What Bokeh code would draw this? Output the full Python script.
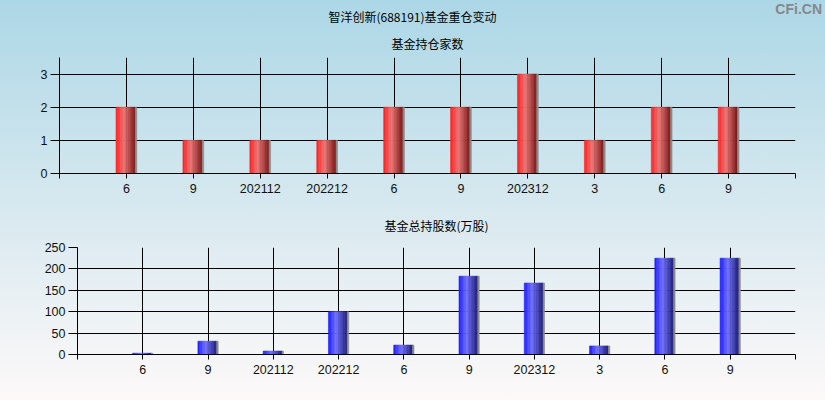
from bokeh.plotting import figure
from bokeh.models import ColumnDataSource, FixedTicker, Title, Spacer, Div
from bokeh.layouts import column, row
from bokeh.transform import dodge
from bokeh.embed import file_html
from bokeh.resources import INLINE

# ---------------- data ----------------
period_labels = ["6", "9", "202112", "202212", "6", "9", "202312", "3", "6", "9"]
fund_counts = [2, 1, 1, 1, 2, 2, 3, 1, 2, 2]
fund_shares = [3, 31, 8, 100, 22, 183, 167, 20, 225, 225]

main_title = "智洋创新(688191)基金重仓变动"
top_title = "基金持仓家数"
bottom_title = "基金总持股数(万股)"
watermark = "CFi.CN"

count_ticks = [0, 1, 2, 3]
share_ticks = [0, 50, 100, 150, 200, 250]

# ---------------- style ----------------
W_TOTAL = 825
HEAD_H = 26
H_EACH = 200
NUM_FONT = "Liberation Sans"
CJK_FONT = "Noto Sans CJK SC"
BAR_W = 0.31
N_STRIPS = 14
BOTTOM_SHIFT = 18

positions = list(range(1, len(period_labels) + 1))
x_ticks = list(range(0, len(period_labels) + 2))
overrides = {i: "" for i in x_ticks}
for pos, lab in zip(positions, period_labels):
    overrides[pos] = lab


def lerp(c1, c2, t):
    return tuple(int(round(a + (b - a) * t)) for a, b in zip(c1, c2))


def hexc(c):
    return "#%02x%02x%02x" % c


def strip_colors(bright, light, dark):
    cols = []
    for i in range(N_STRIPS):
        t = (i + 0.5) / N_STRIPS
        if i == N_STRIPS - 1:
            cols.append("#8a8a8a")
            continue
        if t < 0.40:
            c = lerp(bright, light, t / 0.40)
        else:
            c = lerp(light, dark, (t - 0.40) / (0.92 - 0.40))
        cols.append(hexc(c))
    return cols


red_cols = strip_colors((255, 30, 30), (232, 118, 118), (125, 22, 22))
blue_cols = strip_colors((26, 26, 255), (112, 112, 250), (28, 28, 120))


def style(p, yticks):
    p.background_fill_color = None
    p.border_fill_color = None
    p.outline_line_color = None
    p.xaxis.ticker = FixedTicker(ticks=x_ticks)
    p.xaxis.major_label_overrides = overrides
    p.yaxis.ticker = FixedTicker(ticks=yticks)
    p.xgrid.ticker = FixedTicker(ticks=x_ticks)
    p.ygrid.ticker = FixedTicker(ticks=yticks)
    for g in (p.xgrid[0], p.ygrid[0]):
        g.grid_line_color = "black"
        g.grid_line_width = 1
        g.grid_line_alpha = 1
    for ax in (p.xaxis[0], p.yaxis[0]):
        ax.axis_line_color = "black"
        ax.major_tick_line_color = "black"
        ax.minor_tick_line_color = None
        ax.major_label_text_font = NUM_FONT
        ax.major_label_text_font_size = "12.5px"
        ax.major_label_text_color = "#111111"
        ax.major_tick_in = 0
    p.xaxis.major_tick_out = 5
    p.xaxis.major_label_standoff = 5
    p.yaxis.major_tick_out = 9
    p.yaxis.major_label_standoff = 3


def bars(p, values, cols):
    src = ColumnDataSource(dict(x=positions, y=values))
    sw = BAR_W / N_STRIPS
    for i, c in enumerate(cols):
        off = -BAR_W / 2 + (i + 0.5) * sw
        p.vbar(x=dodge("x", off), top="y", bottom=0, width=sw, source=src,
               fill_color=c, line_color=c, line_width=0.6)


# ---------------- header: main title + watermark ----------------
head_html = (
    '<div style="position:relative;width:%dpx;height:%dpx;margin:0;padding:0;">'
    '<span style="position:absolute;left:0;width:%dpx;top:9px;text-align:center;'
    'font-family:\'%s\';font-size:12px;line-height:16px;color:#000;">%s</span>'
    '<span style="position:absolute;right:3px;top:2px;'
    'font-family:\'%s\';font-size:14px;font-weight:bold;line-height:14px;'
    'color:#87878b;">%s</span></div>'
) % (W_TOTAL, HEAD_H, W_TOTAL, CJK_FONT, main_title, NUM_FONT, watermark)
head = Div(text=head_html, width=W_TOTAL, height=HEAD_H,
           styles={"margin": "0", "padding": "0"})

# ---------------- top chart ----------------
p1 = figure(width=W_TOTAL, height=H_EACH - HEAD_H, x_range=(0, 11),
            y_range=(0, 3.5),
            output_backend="svg", toolbar_location=None, title=None,
            min_border_left=59, min_border_right=30, min_border_top=56 - HEAD_H,
            min_border_bottom=27)
style(p1, count_ticks)
bars(p1, fund_counts, red_cols)
p1.add_layout(Title(text=top_title, align="center", text_font=CJK_FONT,
                    text_font_size="12px", text_font_style="normal",
                    text_color="black", standoff=12), "above")

# ---------------- bottom chart ----------------
p2 = figure(width=W_TOTAL - BOTTOM_SHIFT, height=H_EACH, x_range=(0, 11),
            y_range=(0, 250),
            output_backend="svg", toolbar_location=None, title=None,
            min_border_left=59, min_border_right=30, min_border_top=47,
            min_border_bottom=46)
style(p2, share_ticks)
bars(p2, fund_shares, blue_cols)
p2.add_layout(Title(text=bottom_title, align="center", text_font=CJK_FONT,
                    text_font_size="12px", text_font_style="normal",
                    text_color="black", standoff=28), "above")

layout = column(head, p1, row(Spacer(width=BOTTOM_SHIFT, height=H_EACH), p2),
                spacing=0,
                styles={"background": "linear-gradient(to bottom, #acd7e6 0%, #d6e8ef 50%, #fdf9f9 100%)"})

open("out.html", "w").write(file_html(layout, INLINE))
